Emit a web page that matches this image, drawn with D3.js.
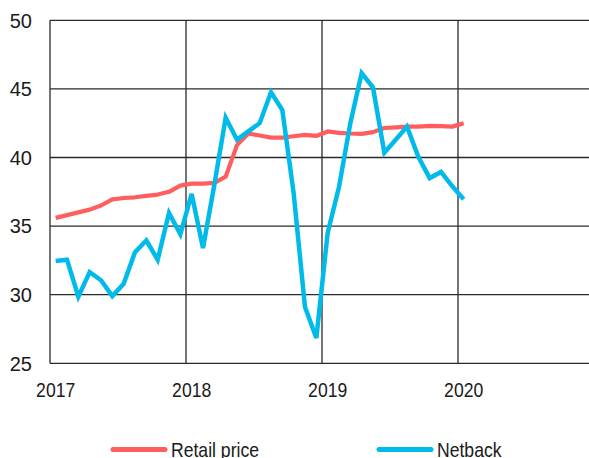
<!DOCTYPE html>
<meta charset="utf-8">
<style>
  body { margin: 0; background: #fff; }
  text { font-family: "Liberation Sans", Arial, sans-serif; fill: #1a1a1a; }
</style>

<!-- Load d3.js -->
<script src="https://d3js.org/d3.v7.min.js"></script>

<div id="my_dataviz"></div>

<script>

// monthly values, Jan 2017 .. Jan 2020
var retailPrice = [35.6, 35.8, 36.0, 36.2, 36.5, 36.95, 37.05, 37.1, 37.2, 37.3, 37.5, 37.95,
  38.1, 38.1, 38.15, 38.6, 40.9, 41.75, 41.6, 41.45, 41.45, 41.55, 41.65, 41.57,
  41.9, 41.8, 41.75, 41.72, 41.85, 42.15, 42.2, 42.25, 42.25, 42.3, 42.28, 42.25,
  42.5]
var netback = [32.45, 32.55, 29.85, 31.65, 31.05, 29.9, 30.8, 33.1, 33.95, 32.55, 35.95, 34.4,
  37.35, 33.4, 38.0, 42.9, 41.3, 41.9, 42.5, 44.75, 43.45, 37.4, 29.1, 26.85,
  34.5, 37.85, 42.5, 46.15, 45.1, 40.35, 41.3, 42.25, 40.05, 38.5, 38.95, 37.9,
  36.95]
var yearLabels = ["2017", "2018", "2019", "2020"]
var yTicks = [25, 30, 35, 40, 45, 50]
var seriesNames = ["Retail price", "Netback"]
var seriesColors = ["#ff5e5e", "#00bbea"]

var margin = {top: 20.3, left: 50},
  width = 544,
  height = 343;

var svg = d3.select("#my_dataviz")
  .append("svg")
    .attr("width", 589)
    .attr("height", 458)

var g = svg.append("g")
  .attr("transform", "translate(" + margin.left + "," + margin.top + ")");

// x in months from Jan 2017, 4 years wide
var x = d3.scaleLinear().domain([0, 48]).range([0, width])
var y = d3.scaleLinear().domain([25, 50]).range([height, 0])

// horizontal grid
g.selectAll("hgrid")
  .data(yTicks).enter()
  .append("line")
    .attr("x1", 0).attr("x2", width)
    .attr("y1", function(d) { return y(d) }).attr("y2", function(d) { return y(d) })
    .style("stroke", "#2a2a2a").style("stroke-width", 1.3)

// vertical grid, one per year
g.selectAll("vgrid")
  .data([0, 12, 24, 36, 48]).enter()
  .append("line")
    .attr("x1", function(d) { return x(d) }).attr("x2", function(d) { return x(d) })
    .attr("y1", 0).attr("y2", height)
    .style("stroke", "#2a2a2a").style("stroke-width", 1.3)

// y labels
svg.selectAll("ylab")
  .data(yTicks).enter()
  .append("text")
    .attr("x", 32)
    .attr("y", function(d) { return margin.top + y(d) })
    .attr("dy", "0.36em")
    .style("text-anchor", "end")
    .style("font-size", "20px")
    .text(function(d) { return d })

// x labels sit under the January point of each year
svg.selectAll("xlab")
  .data(yearLabels).enter()
  .append("text")
    .attr("transform", function(d, i) {
      return "translate(" + (margin.left + x(i * 12 + 0.5)) + ",396.5) scale(0.88,1)" })
    .style("text-anchor", "middle")
    .style("font-size", "20px")
    .text(function(d) { return d })

// the lines, points sit mid-month
var line = d3.line()
  .x(function(d, i) { return x(i + 0.5) })
  .y(function(d) { return y(d) })

g.append("path")
  .datum(retailPrice)
  .attr("d", line)
  .style("fill", "none")
  .style("stroke", seriesColors[0])
  .style("stroke-width", 4.2)
  .style("stroke-linejoin", "round")

g.append("path")
  .datum(netback)
  .attr("d", line)
  .style("fill", "none")
  .style("stroke", seriesColors[1])
  .style("stroke-width", 4.5)

// legend
var legX = [113, 379]
var leg = svg.selectAll("legend")
  .data(seriesNames).enter()
  .append("g")
    .attr("transform", function(d, i) { return "translate(" + legX[i] + ",449.5)" })
leg.append("line")
  .attr("x1", 0).attr("x2", 52)
  .style("stroke", function(d, i) { return seriesColors[i] })
  .style("stroke-width", 5)
  .style("stroke-linecap", "round")
leg.append("text")
  .attr("transform", "translate(58,7.5) scale(0.88,1)")
  .style("font-size", "20px")
  .text(function(d) { return d })

</script>
